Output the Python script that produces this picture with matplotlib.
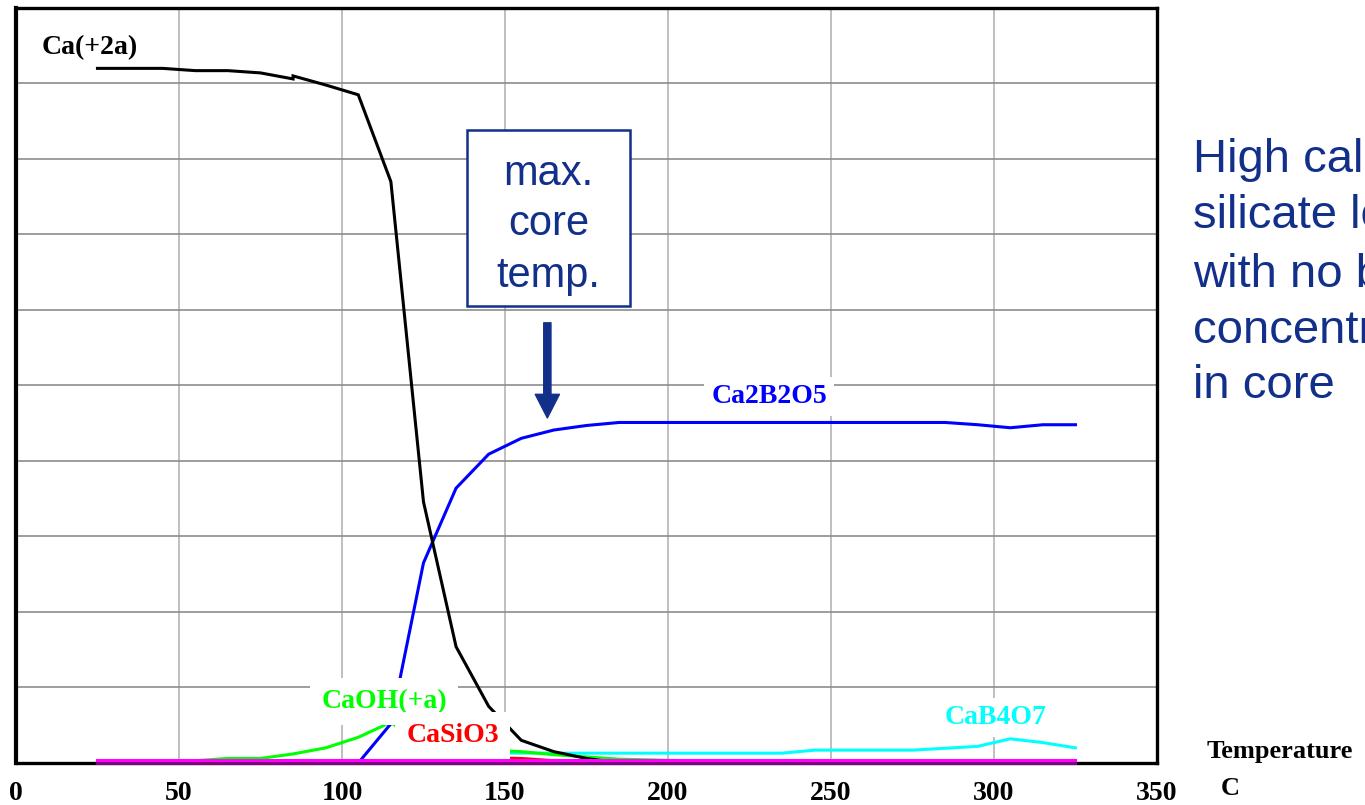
import matplotlib.pyplot as plt
from matplotlib.patches import Rectangle, FancyArrowPatch
import numpy as np

# temperature steps (C) used by all species
temp = [25, 35, 45, 55, 65, 75, 85, 95, 105, 115, 125, 135, 145, 155, 165, 175,
        185, 195, 205, 215, 225, 235, 245, 255, 265, 275, 285, 295, 305, 315, 325]

# Ca(+2a) has a small jump at 85 C, so it gets its own x list
temp_ca = [25, 35, 45, 55, 65, 75, 85, 85, 95, 105, 115, 125, 135, 145, 155, 165, 175,
           185, 195, 205, 215, 225, 235, 245, 255, 265, 275, 285, 295, 305, 315, 325]
ca_2a = [0.920, 0.920, 0.920, 0.917, 0.917, 0.914, 0.906, 0.910, 0.898, 0.885, 0.770,
         0.346, 0.154, 0.075, 0.030, 0.015, 0.006,
         0, 0, 0, 0, 0, 0, 0, 0, 0, 0, 0, 0, 0, 0, 0]

ca2b2o5 = [0, 0, 0, 0, 0, 0, 0, 0, 0, 0.052, 0.265, 0.364, 0.409, 0.430, 0.441, 0.447,
           0.451, 0.451, 0.451, 0.451, 0.451, 0.451, 0.451, 0.451, 0.451, 0.451, 0.451,
           0.448, 0.444, 0.448, 0.448]

caoh = [0.003, 0.003, 0.003, 0.003, 0.006, 0.006, 0.012, 0.020, 0.034, 0.054, 0.022,
        0.016, 0.017, 0.015, 0.011, 0.008, 0.005, 0.004, 0.003, 0.003, 0.003, 0.003,
        0.003, 0.003, 0.003, 0.003, 0.003, 0.003, 0.003, 0.003, 0.003]

casio3 = [0, 0, 0, 0, 0, 0, 0, 0, 0, 0.003, 0.006, 0.007, 0.007, 0.006, 0.003, 0,
          0, 0, 0, 0, 0, 0, 0, 0, 0, 0, 0, 0, 0, 0, 0]

cab4o7 = [0, 0, 0, 0, 0, 0, 0, 0, 0, 0, 0.007, 0.010, 0.013, 0.013, 0.013, 0.013,
          0.013, 0.013, 0.013, 0.013, 0.013, 0.013, 0.017, 0.017, 0.017, 0.017, 0.0195,
          0.022, 0.032, 0.027, 0.020]

other_top = [0.004] * len(temp)     # magenta trace
other_bottom = [0.0] * len(temp)    # purple trace

xticks = [0, 50, 100, 150, 200, 250, 300, 350]

navy = '#12308A'
serif = 'Liberation Serif'
sans = 'Liberation Sans'

fig = plt.figure(figsize=(13.65, 8.05), dpi=100)
ax = fig.add_axes([0.0117, 0.0522, 0.8359, 0.9379])

ax.set_xlim(0, 350)
ax.set_ylim(0, 1)
ax.set_xticks(xticks)
ax.set_xticklabels([str(t) for t in xticks], fontfamily=serif, fontweight='bold', fontsize=20)
ax.set_yticks(np.arange(0, 1.01, 0.1))
ax.set_yticklabels([])
ax.tick_params(length=0, pad=13)

ax.set_axisbelow(True)
ax.xaxis.grid(True, color='#b4b4b4', lw=1.2)
ax.yaxis.grid(True, color='#8c8c8c', lw=1.2)
for side in ['top', 'right', 'bottom']:
    ax.spines[side].set_linewidth(2.4)
ax.spines['left'].set_linewidth(3.0)

kw = dict(lw=2.2, clip_on=False, zorder=3, solid_joinstyle='miter')
ax.plot(temp, cab4o7, color='#00FFFF', **kw)
ax.plot(temp, casio3, color='#FF0000', **kw)
ax.plot(temp, caoh, color='#00FF00', **kw)
ax.plot(temp, ca2b2o5, color='#0000FF', **kw)
ax.plot(temp_ca, ca_2a, color='black', **kw)

# species labels (white boxes hide the lines behind them)
lab = dict(fontfamily=serif, fontweight='bold', fontsize=20, ha='center', va='center', zorder=4)
box = dict(facecolor='white', edgecolor='none', pad=5)
ax.text(8, 0.948, 'Ca(+2a)', color='black', **{**lab, 'ha': 'left'})
ax.text(231, 0.485, 'Ca2B2O5', color='#0000FF', bbox=box, **lab)
ax.text(113, 0.081, 'CaOH(+a)', color='#00FF00', bbox=dict(facecolor='white', edgecolor='none', pad=8), **lab)
ax.text(134, 0.036, 'CaSiO3', color='#FF0000', bbox=dict(facecolor='white', edgecolor='none', pad=8), **lab)
ax.text(300.6, 0.060, 'CaB4O7', color='#00FFFF', bbox=box, **lab)

# bottom traces stay on top of the label boxes and the axis line
kw['zorder'] = 5
ax.plot(temp, other_bottom, color='#800080', **kw)
ax.plot(temp, other_top, color='#FF00FF', **kw)

# max. core temp. box and arrow
ax.add_patch(Rectangle((138.5, 0.605), 49.7, 0.233, facecolor='white', edgecolor=navy,
                       lw=1.8, zorder=6))
for line, yv in zip(['max.', 'core', 'temp.'], [0.765, 0.699, 0.631]):
    ax.text(163.4, yv, line, fontfamily=sans, fontsize=30, color=navy,
            ha='center', va='baseline', zorder=7)
ax.add_patch(FancyArrowPatch((163, 0.583), (163, 0.457), mutation_scale=20, color=navy,
                             arrowstyle='simple,head_length=0.85,head_width=0.87,tail_width=0.26',
                             shrinkA=0, shrinkB=0, zorder=6))

# axis title at lower right
fig.text(0.9377, 0.067, 'Temperature', fontfamily=serif, fontweight='bold', fontsize=19,
         ha='center', va='center')
fig.text(0.9015, 0.0199, 'C', fontfamily=serif, fontweight='bold', fontsize=19,
         ha='center', va='center')

# side note (cut by the slide edge in the original)
note = ['High calcium', 'silicate loading', 'with no boron', 'concentration', 'in core']
base_px = [172, 228, 287, 343, 398]
for line, py in zip(note, base_px):
    fig.text(0.874, 1 - py / 805, line, fontfamily=sans, fontsize=34, color=navy,
             ha='left', va='baseline')

fig.savefig('out.png', dpi=100)
